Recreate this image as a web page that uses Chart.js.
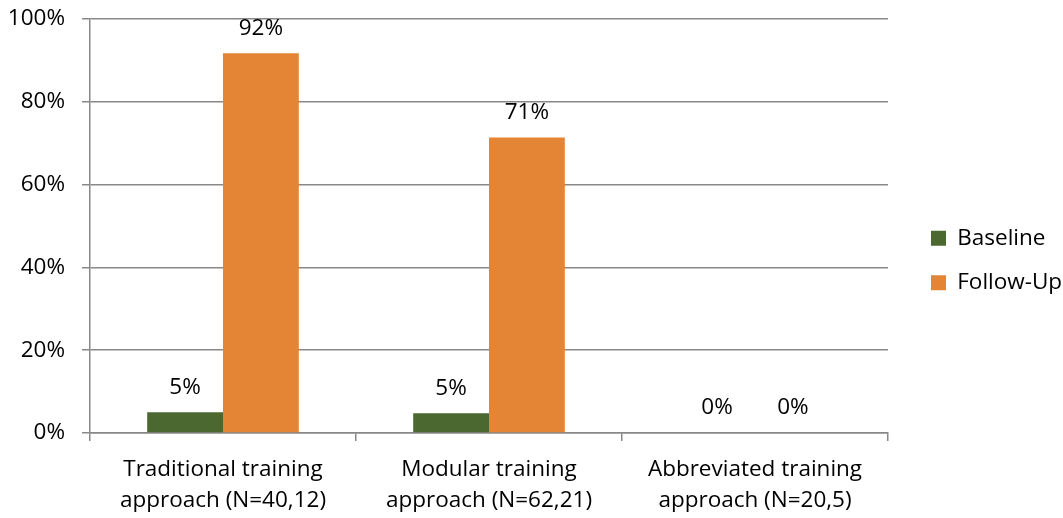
<!DOCTYPE html>
<html>
<head>
<meta charset="utf-8">
<script src="https://cdn.jsdelivr.net/npm/chart.js@4"></script>
<style>
  body { margin: 0; background: #fff; }
</style>
</head>
<body>
<canvas id="chart" width="1063" height="518"></canvas>
<script>
// data
const categories = [
    ['Traditional training', 'approach (N=40,12)'],
    ['Modular training', 'approach (N=62,21)'],
    ['Abbreviated training', 'approach (N=20,5)']
];
const baseline = [5.0, 4.8, 0];
const followUp = [91.7, 71.4, 0];
const yTicks = [0, 20, 40, 60, 80, 100];

const FONT = { family: '"Open Sans", "Noto Sans", sans-serif', size: 22.5, lineHeight: 1.33 };
const XFONT = { family: FONT.family, size: 22.5, lineHeight: 1.38 };

// labels on top of each bar
const barLabels = {
    id: 'barLabels',
    afterDatasetsDraw(chart) {
        const ctx = chart.ctx;
        ctx.save();
        ctx.font = FONT.size + 'px ' + FONT.family;
        ctx.fillStyle = '#000';
        ctx.textAlign = 'center';
        ctx.textBaseline = 'middle';
        chart.data.datasets.forEach(function (ds, i) {
            chart.getDatasetMeta(i).data.forEach(function (bar, j) {
                ctx.fillText(Math.round(ds.data[j]) + '%', bar.x, bar.y - 25);
            });
        });
        ctx.restore();
    }
};

// fixed legend width, then nudge it so there is a wider gap to the plot
const legendSpot = {
    id: 'legendSpot',
    beforeLayout(chart) {
        const legend = chart.legend;
        if (legend && !legend._fixed) {
            const fit = legend.fit;
            legend.fit = function () {
                fit.call(this);
                this.width = 170;
            };
            legend._fixed = true;
        }
    },
    afterLayout(chart) {
        const legend = chart.legend;
        legend.left += 21;
        legend.right += 21;
        legend.top -= 8;
        legend.bottom -= 8;
    }
};

new Chart(document.getElementById('chart').getContext('2d'), {
    type: 'bar',
    data: {
        labels: categories,
        datasets: [{
            label: 'Baseline',
            data: baseline,
            backgroundColor: '#4a6830',
            categoryPercentage: 0.57,
            barPercentage: 1
        }, {
            label: 'Follow-Up',
            data: followUp,
            backgroundColor: '#e38535',
            categoryPercentage: 0.57,
            barPercentage: 1
        }]
    },
    options: {
        responsive: false,
        animation: false,
        layout: { padding: { top: 19, right: 5, left: 0, bottom: 0 } },
        plugins: {
            tooltip: { enabled: false },
            legend: {
                position: 'right',
                labels: {
                    font: FONT,
                    color: '#000',
                    boxWidth: 15,
                    boxHeight: 15,
                    padding: 22
                }
            }
        },
        scales: {
            x: {
                grid: {
                    drawOnChartArea: false,
                    offset: true,
                    tickLength: 8,
                    color: '#888',
                    lineWidth: 1.5
                },
                border: { color: '#888', width: 1.5 },
                ticks: { font: XFONT, color: '#000', padding: 13 },
                afterFit(scale) {
                    scale.height = 85;
                    scale.paddingLeft = 0;
                    scale.paddingRight = 0;
                }
            },
            y: {
                min: 0,
                max: 100,
                afterBuildTicks(scale) { scale.ticks = yTicks.map(v => ({ value: v })); },
                grid: { color: '#888', lineWidth: 1.5, tickLength: 8 },
                border: { color: '#888', width: 1.5 },
                ticks: {
                    font: FONT,
                    color: '#000',
                    padding: 17,
                    callback: v => v + '%'
                },
                afterFit(scale) {
                    scale.width = 90;
                    scale.paddingTop = 0;
                    scale.paddingBottom = 0;
                }
            }
        }
    },
    plugins: [barLabels, legendSpot]
});
</script>
</body>
</html>
